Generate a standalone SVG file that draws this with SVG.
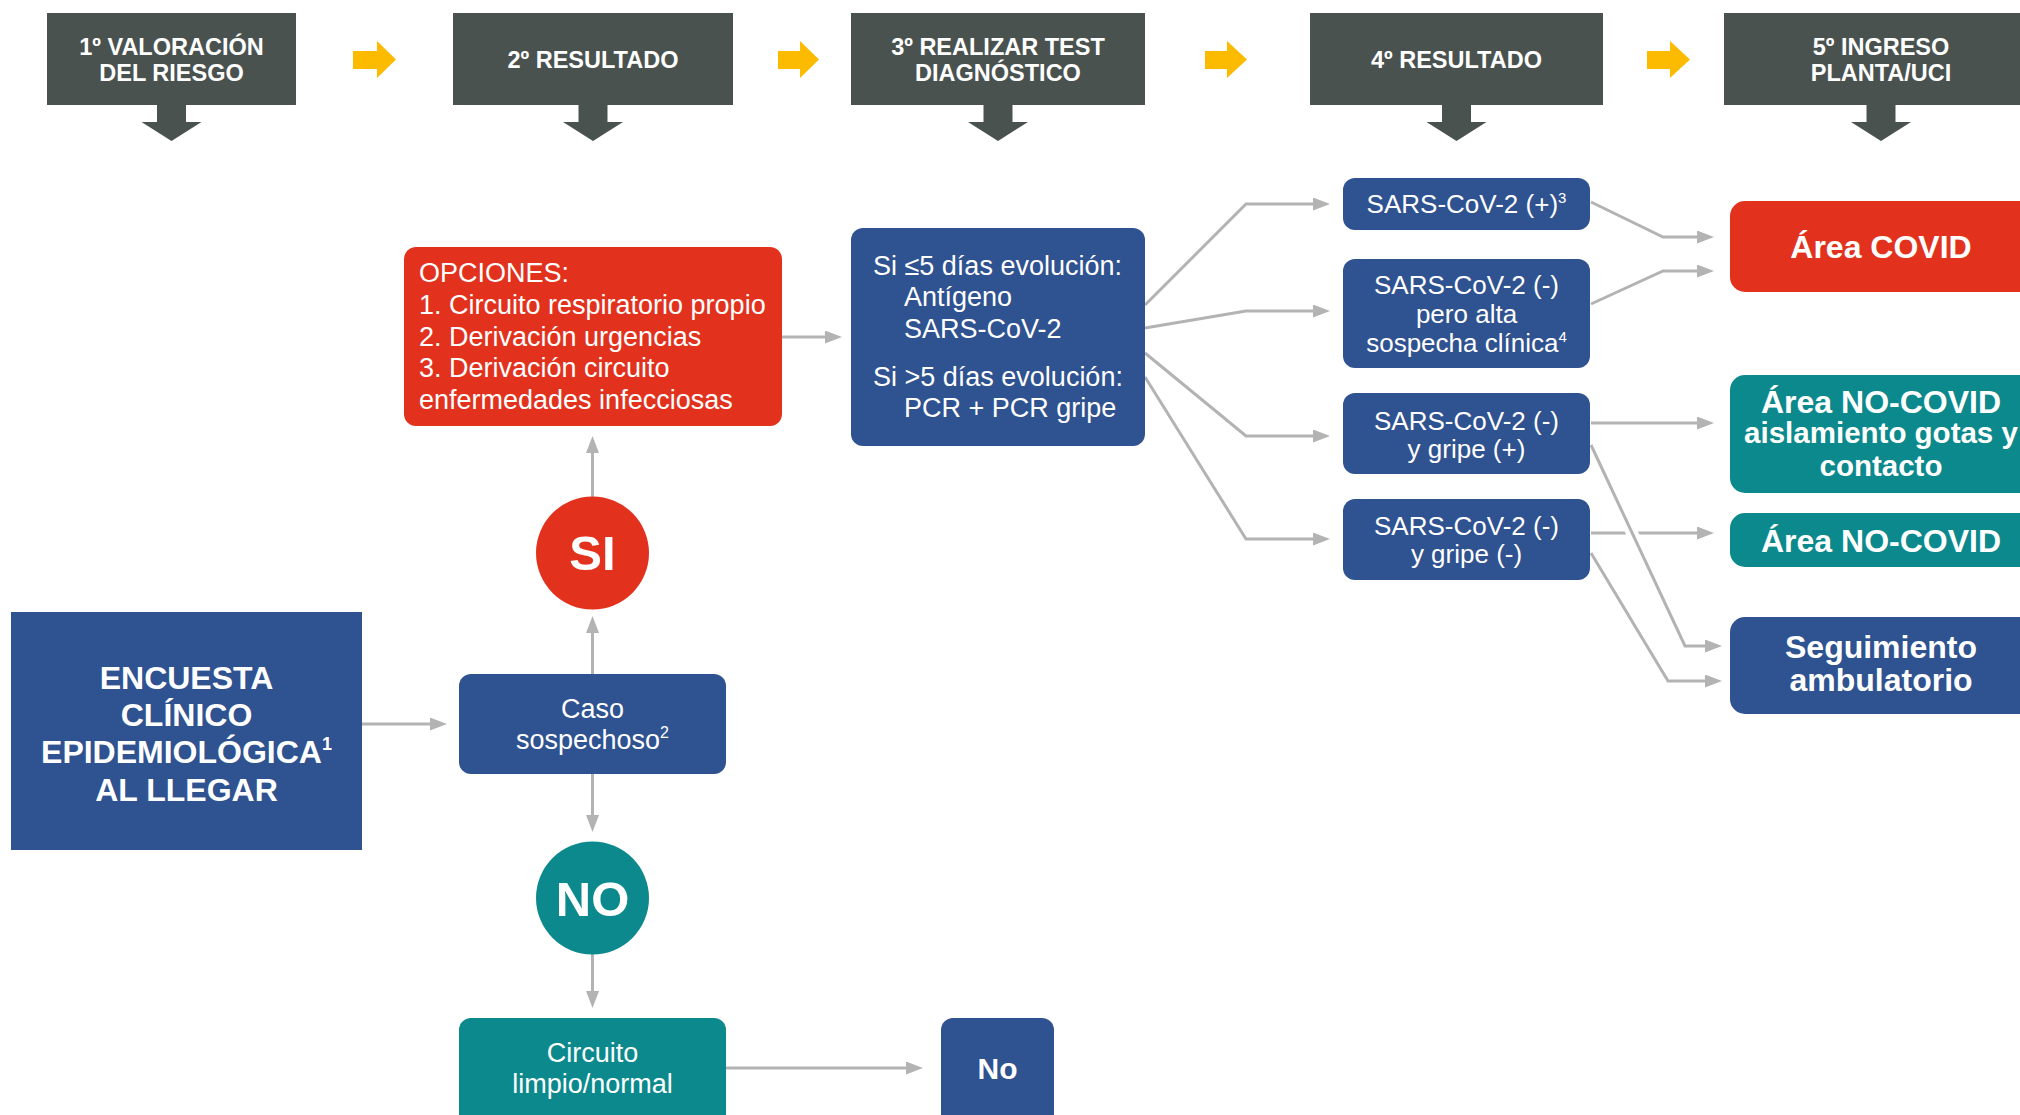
<svg xmlns="http://www.w3.org/2000/svg" width="2020" height="1115" viewBox="0 0 2020 1115">
<defs>
<style>
.hdr{fill:#4A5250}
.hdrt{font-family:"Liberation Sans",Arial,sans-serif;font-weight:bold;font-size:23.5px;fill:#fff;text-anchor:middle}
.dn{fill:#4A5250}
.yel{fill:#FDBB00}
.blue{fill:#2F5290}
.red{fill:#E2321E}
.teal{fill:#0B898C}
.t{font-family:"Liberation Sans",Arial,sans-serif;fill:#fff}
.reg{font-size:27px}
.mid{font-size:26px;text-anchor:middle}
.b{font-weight:bold}
.c{text-anchor:middle}
.conn{fill:none;stroke:#B3B3B3;stroke-width:3}
</style>
<marker id="ah" markerUnits="userSpaceOnUse" markerWidth="18" markerHeight="13" refX="0" refY="6.5" orient="auto">
<path d="M0,0 L17,6.5 L0,13 z" fill="#B3B3B3"/>
</marker>
</defs>
<rect width="2020" height="1115" fill="#fff"/>

<g id="headers">
<g id="h1"><rect class="hdr" x="47" y="13" width="249" height="92"/>
<text class="hdrt" x="171.5" y="55">1º VALORACIÓN</text><text class="hdrt" x="171.5" y="81">DEL RIESGO</text>
<polygon class="dn" points="157,104 186,104 186,122 201.5,122 171.5,141 141.5,122 157,122"/></g>
<g id="h2"><rect class="hdr" x="453" y="13" width="280" height="92"/>
<text class="hdrt" x="593" y="68">2º RESULTADO</text>
<polygon class="dn" points="578.5,104 607.5,104 607.5,122 623,122 593,141 563,122 578.5,122"/></g>
<g id="h3"><rect class="hdr" x="851" y="13" width="294" height="92"/>
<text class="hdrt" x="998" y="55">3º REALIZAR TEST</text><text class="hdrt" x="998" y="81">DIAGNÓSTICO</text>
<polygon class="dn" points="983.5,104 1012.5,104 1012.5,122 1028,122 998,141 968,122 983.5,122"/></g>
<g id="h4"><rect class="hdr" x="1310" y="13" width="293" height="92"/>
<text class="hdrt" x="1456.5" y="68">4º RESULTADO</text>
<polygon class="dn" points="1442,104 1471,104 1471,122 1486.5,122 1456.5,141 1426.5,122 1442,122"/></g>
<g id="h5"><rect class="hdr" x="1724" y="13" width="314" height="92"/>
<text class="hdrt" x="1881" y="55">5º INGRESO</text><text class="hdrt" x="1881" y="81">PLANTA/UCI</text>
<polygon class="dn" points="1866.5,104 1895.5,104 1895.5,122 1911,122 1881,141 1851,122 1866.5,122"/></g>
<g id="steparrows">
<polygon class="yel" points="353,51 377,51 377,41 396,59.5 377,78 377,69 353,69"/>
<polygon class="yel" points="778,51 800,51 800,41 819,59.5 800,78 800,69 778,69"/>
<polygon class="yel" points="1205,51 1227,51 1227,41 1247,59.5 1227,78 1227,69 1205,69"/>
<polygon class="yel" points="1647,51 1670,51 1670,41 1690,59.5 1670,78 1670,69 1647,69"/>
</g>
</g>

<g id="connectors">
<path class="conn" marker-end="url(#ah)" d="M362,724 H430"/>
<path class="conn" marker-end="url(#ah)" d="M592.5,674 V633"/>
<path class="conn" marker-end="url(#ah)" d="M592.5,497 V453"/>
<path class="conn" marker-end="url(#ah)" d="M592.5,774 V815"/>
<path class="conn" marker-end="url(#ah)" d="M592.5,954 V991"/>
<path class="conn" marker-end="url(#ah)" d="M726,1068 H906"/>
<path class="conn" marker-end="url(#ah)" d="M782,337 H825"/>
<path class="conn" marker-end="url(#ah)" d="M1145,305 L1246,204 H1313"/>
<path class="conn" marker-end="url(#ah)" d="M1145,328 L1246,311 H1313"/>
<path class="conn" marker-end="url(#ah)" d="M1145,353 L1246,436 H1313"/>
<path class="conn" marker-end="url(#ah)" d="M1145,377 L1246,539 H1313"/>
<path class="conn" marker-end="url(#ah)" d="M1591,202 L1663,237 H1697"/>
<path class="conn" marker-end="url(#ah)" d="M1591,304 L1663,271 H1697"/>
<path class="conn" marker-end="url(#ah)" d="M1591,423 H1697"/>
<path class="conn" marker-end="url(#ah)" d="M1591,533 H1697"/>
<path d="M1626,520 L1638.5,547" stroke="#fff" stroke-width="12" fill="none"/>
<path class="conn" marker-end="url(#ah)" d="M1591,445 L1685,646 H1705"/>
<path class="conn" marker-end="url(#ah)" d="M1591,553 L1668,681 H1705"/>
</g>

<g id="encuesta">
<rect class="blue" x="11" y="612" width="351" height="238"/>
<text class="t b c" font-size="32" x="186.5" y="689">ENCUESTA</text>
<text class="t b c" font-size="32" x="186.5" y="726">CLÍNICO</text>
<text class="t b c" font-size="32" x="186.5" y="763">EPIDEMIOLÓGICA<tspan font-size="18" dy="-13">1</tspan></text>
<text class="t b c" font-size="32" x="186.5" y="801">AL LLEGAR</text>
</g>

<g id="caso">
<rect class="blue" x="459" y="674" width="267" height="100" rx="12"/>
<text class="t reg c" x="592.5" y="718">Caso</text>
<text class="t reg c" x="592.5" y="749">sospechoso<tspan font-size="16" dy="-11">2</tspan></text>
</g>

<g id="si">
<circle class="red" cx="592.5" cy="553" r="56.5"/>
<text class="t b c" font-size="49" x="592.5" y="570">SI</text>
</g>

<g id="no-circle">
<circle class="teal" cx="592.5" cy="898" r="56.5"/>
<text class="t b c" font-size="49" x="592.5" y="916">NO</text>
</g>

<g id="circuito">
<rect class="teal" x="459" y="1018" width="267" height="112" rx="12"/>
<text class="t reg c" x="592.5" y="1062">Circuito</text>
<text class="t reg c" x="592.5" y="1093">limpio/normal</text>
</g>

<g id="no-box">
<rect class="blue" x="941" y="1018" width="113" height="112" rx="12"/>
<text class="t b c" font-size="30" x="997.5" y="1079">No</text>
</g>

<g id="opciones">
<rect class="red" x="404" y="247" width="378" height="179" rx="12"/>
<text class="t reg" x="419" y="282">OPCIONES:</text>
<text class="t reg" x="419" y="314">1. Circuito respiratorio propio</text>
<text class="t reg" x="419" y="346">2. Derivación urgencias</text>
<text class="t reg" x="419" y="377">3. Derivación circuito</text>
<text class="t reg" x="419" y="409">enfermedades infecciosas</text>
</g>

<g id="test">
<rect class="blue" x="851" y="228" width="294" height="218" rx="12"/>
<text class="t reg" x="873" y="275">Si ≤5 días evolución:</text>
<text class="t reg" x="904" y="306">Antígeno</text>
<text class="t reg" x="904" y="338">SARS-CoV-2</text>
<text class="t reg" x="873" y="386">Si &gt;5 días evolución:</text>
<text class="t reg" x="904" y="417">PCR + PCR gripe</text>
</g>

<g id="res-a">
<rect class="blue" x="1343" y="178" width="247" height="52" rx="12"/>
<text class="t mid" x="1466.5" y="213">SARS-CoV-2 (+)<tspan font-size="15" dy="-10">3</tspan></text>
</g>
<g id="res-b">
<rect class="blue" x="1343" y="259" width="247" height="109" rx="12"/>
<text class="t mid" x="1466.5" y="294">SARS-CoV-2 (-)</text>
<text class="t mid" x="1466.5" y="323">pero alta</text>
<text class="t mid" x="1466.5" y="352">sospecha clínica<tspan font-size="15" dy="-10">4</tspan></text>
</g>
<g id="res-c">
<rect class="blue" x="1343" y="393" width="247" height="81" rx="12"/>
<text class="t mid" x="1466.5" y="430">SARS-CoV-2 (-)</text>
<text class="t mid" x="1466.5" y="458">y gripe (+)</text>
</g>
<g id="res-d">
<rect class="blue" x="1343" y="499" width="247" height="81" rx="12"/>
<text class="t mid" x="1466.5" y="535">SARS-CoV-2 (-)</text>
<text class="t mid" x="1466.5" y="563">y gripe (-)</text>
</g>

<g id="area-covid">
<rect class="red" x="1730" y="201" width="320" height="91" rx="15"/>
<text class="t b c" font-size="32" x="1881" y="258">Área COVID</text>
</g>
<g id="area-nocovid-aisl">
<rect class="teal" x="1730" y="375" width="320" height="118" rx="15"/>
<text class="t b c" font-size="32" x="1881" y="413">Área NO-COVID</text>
<text class="t b c" font-size="29.5" x="1881" y="443">aislamiento gotas y</text>
<text class="t b c" font-size="29.5" x="1881" y="476">contacto</text>
</g>
<g id="area-nocovid">
<rect class="teal" x="1730" y="513" width="320" height="54" rx="15"/>
<text class="t b c" font-size="32" x="1881" y="552">Área NO-COVID</text>
</g>
<g id="seguimiento">
<rect class="blue" x="1730" y="617" width="320" height="97" rx="15"/>
<text class="t b c" font-size="32" x="1881" y="658">Seguimiento</text>
<text class="t b c" font-size="32" x="1881" y="691">ambulatorio</text>
</g>
</svg>
